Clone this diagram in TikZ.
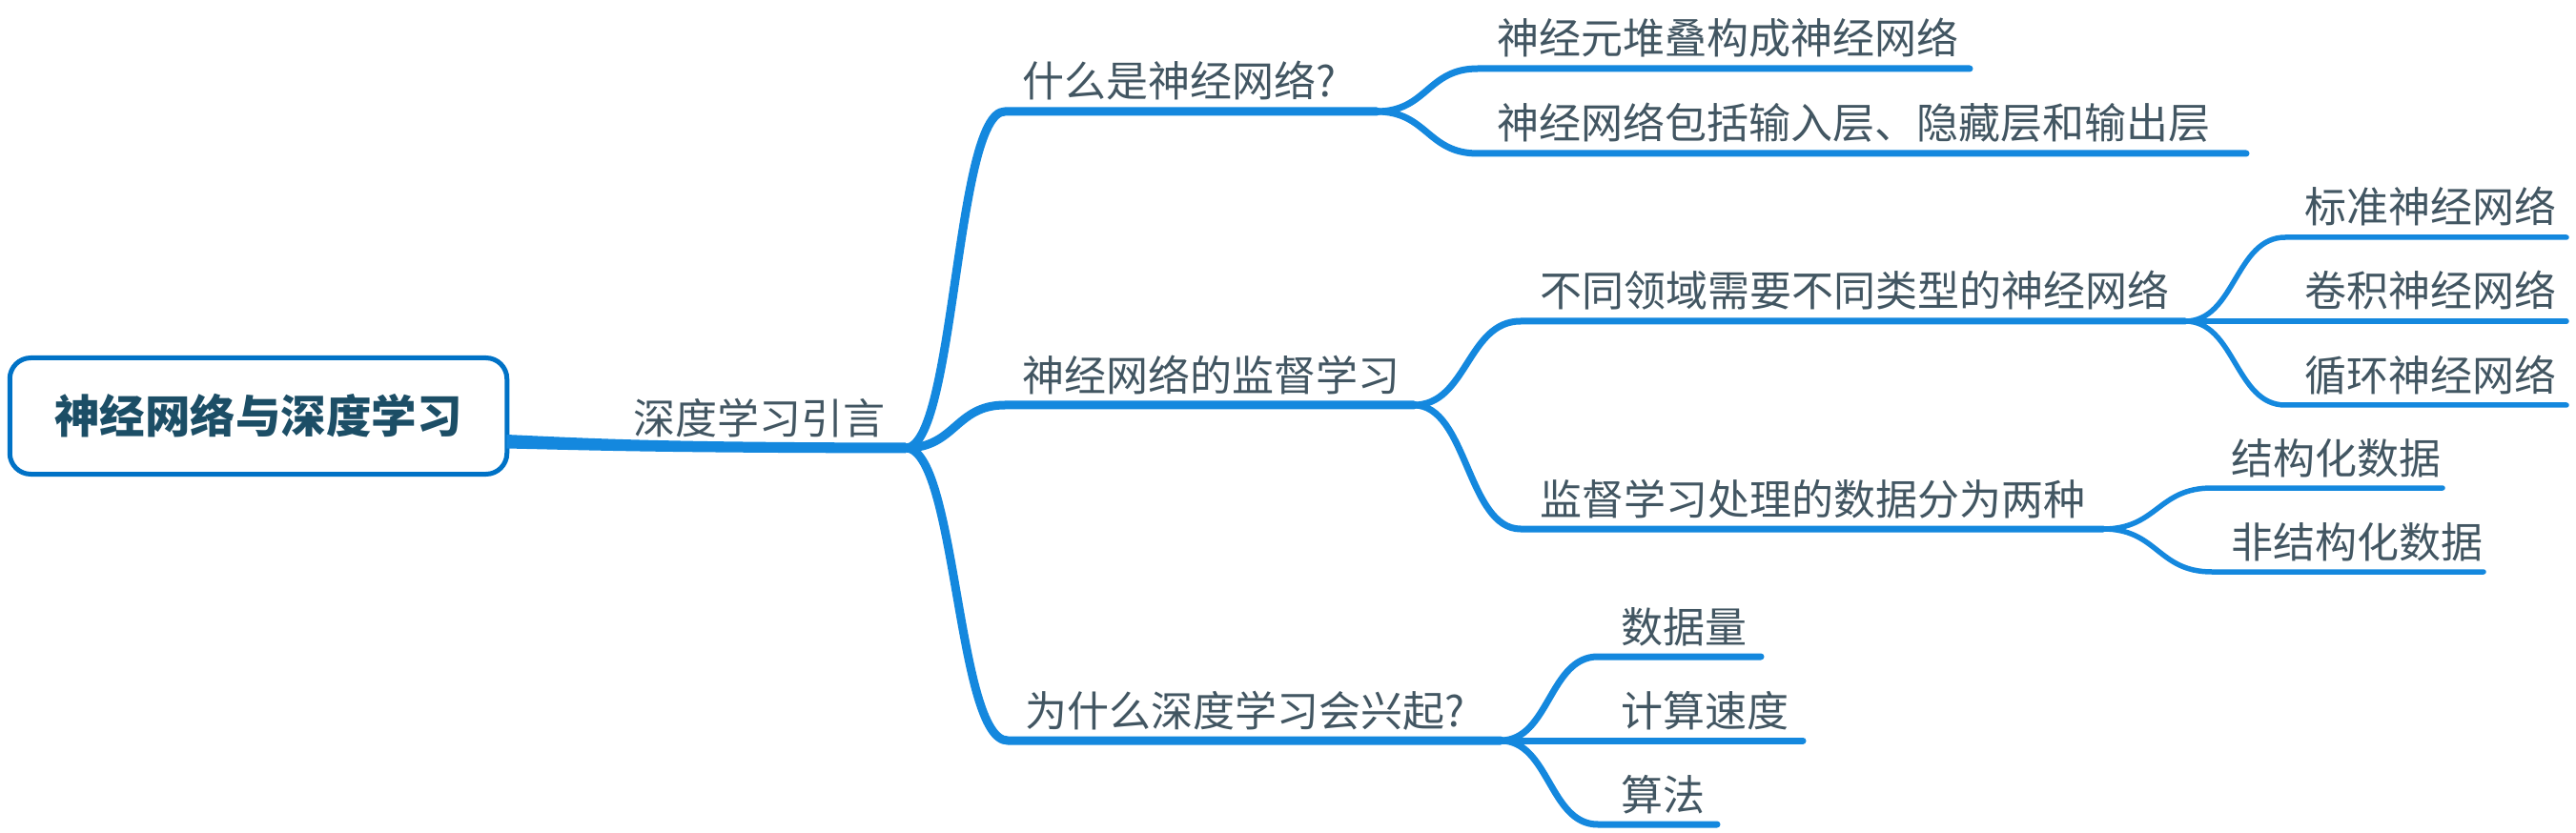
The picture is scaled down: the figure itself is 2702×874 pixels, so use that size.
\documentclass[tikz,border=0pt]{standalone}
\usepackage{fontspec}
\setmainfont{Noto Sans CJK SC}
\usetikzlibrary{calc}
\definecolor{linec}{RGB}{20,136,222}
\definecolor{boxc}{RGB}{0,114,198}
\definecolor{txtc}{RGB}{66,86,98}
\definecolor{roottxt}{RGB}{28,78,102}
\newcommand\mmbranch[4]{%
  \draw[#1] let \p1=(#2), \p2=(#3) in (#2) .. controls ({0.5*\x1+0.5*\x2},\y1) and ({0.5*\x1+0.5*\x2},\y2) .. (#3) -- (#4);}
\begin{document}
\begin{tikzpicture}[x=1pt,y=-1pt,
  lab/.style={anchor=base west, inner sep=0pt, text=txtc, font=\fontsize{44}{44}\selectfont},
  lvA/.style={draw=linec, line width=9pt, line cap=round, line join=round},
  lvB/.style={draw=linec, line width=7pt, line cap=round, line join=round},
  lvC/.style={draw=linec, line width=5.5pt, line cap=round, line join=round},
  rootbox/.style={draw=boxc, line width=5pt, rounded corners=22pt, minimum width=521.5pt, minimum height=122pt, inner sep=0pt, text=roottxt, font=\fontsize{47.5}{47.5}\selectfont\bfseries}]
\useasboundingbox (0,0) rectangle (2702,874);
\fill[white] (0,0) rectangle (2702,874);

% root
\node[rootbox] (root) at (271,436.5) {神经网络与深度学习};

% branch points and line ends
\coordinate (p0) at (950,470);
\coordinate (sA) at (1054,117);  \coordinate (eA) at (1444,117);
\coordinate (sB) at (1054,425);  \coordinate (eB) at (1483,425);
\coordinate (sC) at (1057,777);  \coordinate (eC) at (1574,777);
\coordinate (sA1) at (1550,72);  \coordinate (eA1) at (2066,72);
\coordinate (sA2) at (1550,161); \coordinate (eA2) at (2356,161);
\coordinate (sB1) at (1595,337); \coordinate (eB1) at (2292,337);
\coordinate (sB2) at (1595,555); \coordinate (eB2) at (2206,555);
\coordinate (sB1a) at (2397,249); \coordinate (eB1a) at (2692,249);
\coordinate (sB1b) at (2397,337); \coordinate (eB1b) at (2692,337);
\coordinate (sB1c) at (2397,425); \coordinate (eB1c) at (2692,425);
\coordinate (sB2a) at (2320,512); \coordinate (eB2a) at (2562,512);
\coordinate (sB2b) at (2320,600); \coordinate (eB2b) at (2605,600);
\coordinate (sC1) at (1676,689); \coordinate (eC1) at (1847,689);
\coordinate (sC2) at (1676,777); \coordinate (eC2) at (1891,777);
\coordinate (sC3) at (1676,865); \coordinate (eC3) at (1801,865);

% trunk
\fill[linec] ($(root.east)+(-3,19.5)$) .. controls (640,461) and (700,464) .. ($(p0)+(0,-5.5)$)
  -- ($(p0)+(0,5.5)$) .. controls (700,475) and (640,473) .. ($(root.east)+(-3,34)$) -- cycle;
\node[lab, anchor=base west] (tT) at (664,456) {深度学习引言};

% level 1
\mmbranch{lvA}{p0}{sA}{eA}
\mmbranch{lvA}{p0}{sB}{eB}
\mmbranch{lvA}{p0}{sC}{eC}
\node[lab] (tA) at ($(sA)+(18,-15)$) {什么是神经网络?};
\node[lab] (tB) at ($(sB)+(18,-15)$) {神经网络的监督学习};
\node[lab] (tC) at ($(sC)+(18,-15)$) {为什么深度学习会兴起?};

% level 2
\mmbranch{lvB}{eA}{sA1}{eA1}
\mmbranch{lvB}{eA}{sA2}{eA2}
\mmbranch{lvB}{eB}{sB1}{eB1}
\mmbranch{lvB}{eB}{sB2}{eB2}
\mmbranch{lvB}{eC}{sC1}{eC1}
\mmbranch{lvB}{eC}{sC2}{eC2}
\mmbranch{lvB}{eC}{sC3}{eC3}
\node[lab] (tA1) at ($(sA1)+(20,-15)$) {神经元堆叠构成神经网络};
\node[lab] (tA2) at ($(sA2)+(20,-15)$) {神经网络包括输入层、隐藏层和输出层};
\node[lab] (tB1) at ($(sB1)+(20,-15)$) {不同领域需要不同类型的神经网络};
\node[lab] (tB2) at ($(sB2)+(20,-15)$) {监督学习处理的数据分为两种};
\node[lab] (tC1) at ($(sC1)+(24,-15)$) {数据量};
\node[lab] (tC2) at ($(sC2)+(24,-15)$) {计算速度};
\node[lab] (tC3) at ($(sC3)+(24,-15)$) {算法};

% level 3
\mmbranch{lvC}{eB1}{sB1a}{eB1a}
\mmbranch{lvC}{eB1}{sB1b}{eB1b}
\mmbranch{lvC}{eB1}{sB1c}{eB1c}
\mmbranch{lvC}{eB2}{sB2a}{eB2a}
\mmbranch{lvC}{eB2}{sB2b}{eB2b}
\node[lab] (tB1a) at ($(sB1a)+(20,-15)$) {标准神经网络};
\node[lab] (tB1b) at ($(sB1b)+(20,-15)$) {卷积神经网络};
\node[lab] (tB1c) at ($(sB1c)+(20,-15)$) {循环神经网络};
\node[lab] (tB2a) at ($(sB2a)+(20,-15)$) {结构化数据};
\node[lab] (tB2b) at ($(sB2b)+(20,-15)$) {非结构化数据};
\end{tikzpicture}
\end{document}
